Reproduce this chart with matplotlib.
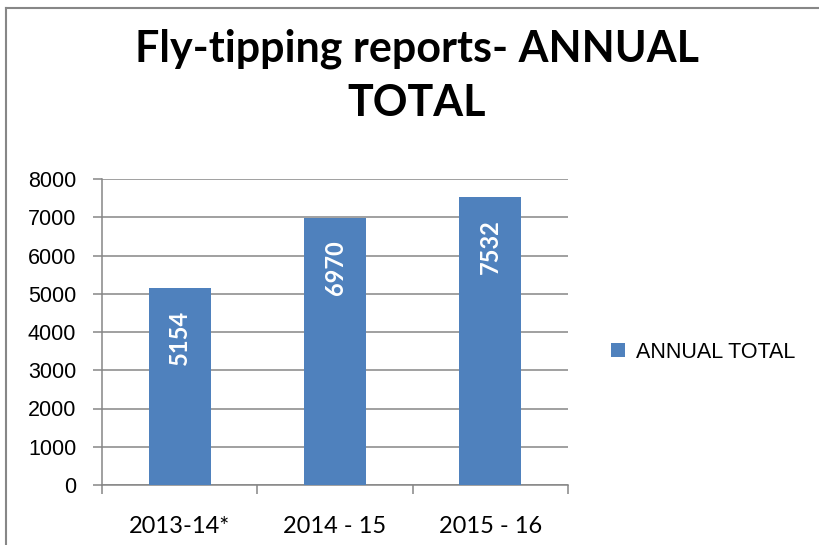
import matplotlib
matplotlib.use("Agg")
import matplotlib.pyplot as plt
from matplotlib.lines import Line2D

# data
periods = ["2013-14*", "2014 - 15", "2015 - 16"]
totals = [5154, 6970, 7532]
series_name = "ANNUAL TOTAL"
yticks = [0, 1000, 2000, 3000, 4000, 5000, 6000, 7000, 8000]

bar_col = "#4F81BD"
grid_col = "#868686"

fig = plt.figure(figsize=(8.19, 5.45), dpi=100)
ax = fig.add_axes([102/819, 1-485/545, (568-102)/819, (485-179)/545])

x = list(range(len(periods)))
bars = ax.bar(x, totals, width=0.4, color=bar_col, zorder=3, label=series_name)

ax.set_xlim(-0.5, len(periods) - 0.5)
ax.set_ylim(0, 8000)
ax.set_yticks(yticks)
ax.set_yticklabels([str(v) for v in yticks], family="Liberation Sans", fontsize=15.5)
ax.yaxis.grid(True, color=grid_col, lw=1.1, zorder=0)
ax.tick_params(axis="y", length=6.5, width=1.1, color=grid_col, pad=12)

# category labels in the middle, tick marks on the boundaries
ax.set_xticks(x)
ax.set_xticklabels(periods, family="Lato", fontsize=17)
ax.tick_params(axis="x", which="major", length=0, pad=22)
ax.set_xticks([i - 0.5 for i in range(len(periods) + 1)], minor=True)
ax.tick_params(axis="x", which="minor", length=6.5, width=1.1, color=grid_col)

for s in ["top", "right"]:
    ax.spines[s].set_visible(False)
for s in ["left", "bottom"]:
    ax.spines[s].set_color(grid_col)
    ax.spines[s].set_linewidth(1.1)

# value labels inside the bars, rotated
for xi, v in zip(x, totals):
    ax.annotate(str(v), (xi, v), xytext=(0, -16), textcoords="offset points",
                rotation=90, ha="center", va="top", color="white",
                fontsize=17, fontweight="bold", family="Lato", zorder=4)

fig.text(417/819, 1-76/545, "Fly-tipping reports- ANNUAL\nTOTAL",
         ha="center", va="center", fontsize=31, fontweight="bold",
         family="Lato", linespacing=1.42)

leg = fig.legend(handles=[bars], labels=[series_name], loc="center left",
                 bbox_to_anchor=(611/819, 1-352/545), frameon=False,
                 borderpad=0, borderaxespad=0, handlelength=0.65,
                 handleheight=0.65, handletextpad=0.5,
                 prop={"family": "Liberation Sans", "size": 15.5})

# chart border (top and left visible)
fig.add_artist(Line2D([6/819, 1.01], [1-8/545, 1-8/545], transform=fig.transFigure,
                      color="#878787", lw=1.5))
fig.add_artist(Line2D([6/819, 6/819], [-0.01, 1-8/545], transform=fig.transFigure,
                      color="#878787", lw=1.5))

fig.savefig("out.png", dpi=100)
